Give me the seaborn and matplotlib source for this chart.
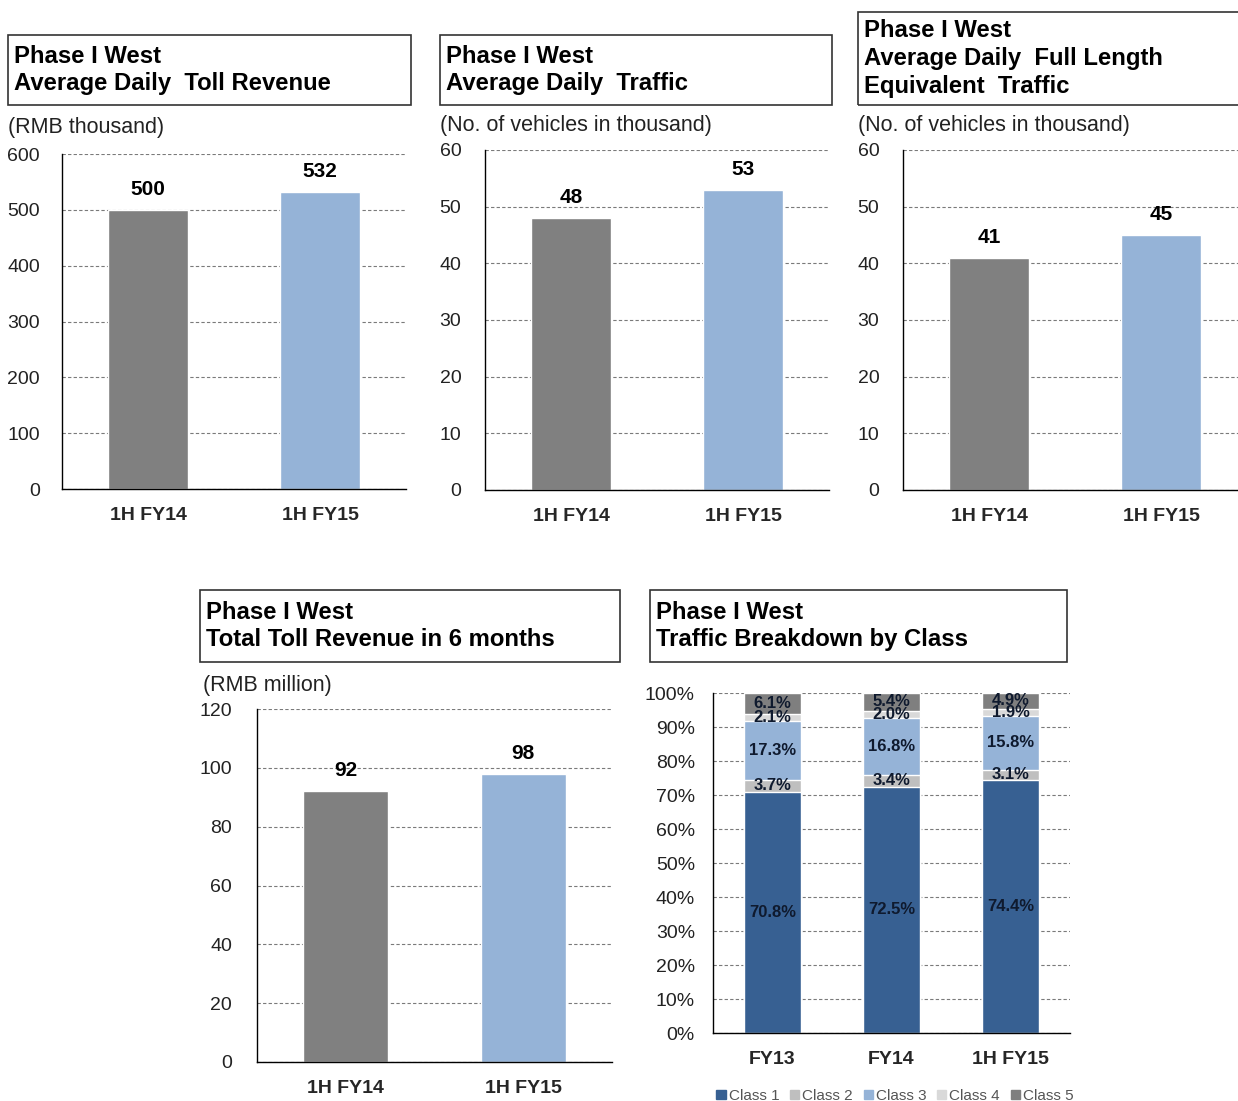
import matplotlib
matplotlib.use("Agg")
import matplotlib.pyplot as plt
import seaborn as sns
import pandas as pd
from matplotlib.patches import Rectangle
from matplotlib.ticker import MultipleLocator, FuncFormatter

# ---- data ----
periods = ["1H FY14", "1H FY15"]
toll_revenue = [500, 532]        # RMB thousand
daily_traffic = [48, 53]         # thousand vehicles
fle_traffic = [41, 45]           # thousand vehicles
total_revenue = [92, 98]         # RMB million

class_periods = ["FY13", "FY14", "1H FY15"]
class_names = ["Class 1", "Class 2", "Class 3", "Class 4", "Class 5"]
class_1 = [70.8, 72.5, 74.4]
class_2 = [3.7, 3.4, 3.1]
class_3 = [17.3, 16.8, 15.8]
class_4 = [2.1, 2.0, 1.9]
class_5 = [6.1, 5.4, 4.9]

GREY = "#808080"
BLUE = "#95B3D7"
class_colors = ["#376092", "#BFBFBF", "#95B3D7", "#D9D9D9", "#7F7F7F"]

W, H = 1238, 1101
sns.set_theme(style="white")
plt.rcParams["font.family"] = ["Liberation Sans", "DejaVu Sans"]

fig = plt.figure(figsize=(W / 100, H / 100), dpi=100)


def px_rect(l, t, r, b):
    # pixel box -> figure fraction [left, bottom, width, height]
    return [l / W, 1 - b / H, (r - l) / W, (b - t) / H]


def title_box(l, t, r, b, text):
    fig.patches.append(Rectangle((l / W, 1 - b / H), (r - l) / W, (b - t) / H,
                                 transform=fig.transFigure, fill=False,
                                 edgecolor="#333333", linewidth=1.2))
    fig.text((l + 6) / W, 1 - ((t + b) / 2) / H, text, fontsize=17.2,
             fontweight="bold", ha="left", va="center", linespacing=1.27,
             color="black")


def unit_label(x, y, text):
    fig.text(x / W, 1 - y / H, text, fontsize=15.5, ha="left", va="center",
             color="#222222")


def style_axes(ax, ymax, step, ncat, pad=16):
    ax.set_xlim(-0.5, ncat - 0.5)
    ax.set_ylim(0, ymax)
    ax.yaxis.set_major_locator(MultipleLocator(step))
    ax.yaxis.grid(True, linestyle=(0, (3, 2)), color="#7a7a7a", linewidth=0.8)
    ax.set_axisbelow(True)
    for s in ["top", "right"]:
        ax.spines[s].set_visible(False)
    for s in ["left", "bottom"]:
        ax.spines[s].set_color("black")
        ax.spines[s].set_linewidth(1.0)
    ax.set_xticks([i - 0.5 for i in range(ncat + 1)], minor=True)
    ax.tick_params(axis="x", which="minor", direction="in", length=5,
                   color="black", width=1)
    ax.tick_params(axis="x", which="major", length=0, pad=13, labelsize=14)
    ax.tick_params(axis="y", length=0, pad=pad, labelsize=14,
                   labelcolor="#222222")
    for lab in ax.get_xticklabels():
        lab.set_fontweight("bold")
    ax.set_xlabel("")
    ax.set_ylabel("")


def bar_panel(rect, values, ymax, step, pad=16, width=0.47):
    ax = fig.add_axes(rect)
    df = pd.DataFrame({"period": periods, "value": values})
    sns.barplot(data=df, x="period", y="value", hue="period",
                palette=[GREY, BLUE], width=width, saturation=1,
                dodge=False, legend=False, ax=ax)
    for cont, v in zip(ax.containers, values):
        ax.bar_label(cont, labels=[str(v)], padding=8, fontsize=15,
                     fontweight="bold", color="black")
    style_axes(ax, ymax, step, len(periods), pad)
    return ax


# ---- top row ----
title_box(8, 35, 411, 105, "Phase I West\nAverage Daily  Toll Revenue")
unit_label(8, 128, "(RMB thousand)")
bar_panel(px_rect(62, 154, 406, 489), toll_revenue, 600, 100, pad=16)

title_box(440, 35, 832, 105, "Phase I West\nAverage Daily  Traffic")
unit_label(440, 125, "(No. of vehicles in thousand)")
bar_panel(px_rect(485, 150, 829, 490), daily_traffic, 60, 10, pad=17)

title_box(858, 12, 1245, 105,
          "Phase I West\nAverage Daily  Full Length\nEquivalent  Traffic")
unit_label(858, 125, "(No. of vehicles in thousand)")
bar_panel(px_rect(903, 150, 1247, 490), fle_traffic, 60, 10, pad=17)

# ---- bottom row ----
title_box(200, 590, 620, 662, "Phase I West\nTotal Toll Revenue in 6 months")
unit_label(203, 685, "(RMB million)")
bar_panel(px_rect(257, 709, 612, 1062), total_revenue, 120, 20, pad=18,
          width=0.48)

title_box(650, 590, 1067, 662, "Phase I West\nTraffic Breakdown by Class")
ax5 = fig.add_axes(px_rect(713, 693, 1070, 1033))
series = [class_1, class_2, class_3, class_4, class_5]
stack = pd.DataFrame(series, index=class_names, columns=class_periods).T
cum = stack.cumsum(axis=1)
# draw cumulative heights from the top class down so each layer sits on the next
for name, col in zip(reversed(class_names), reversed(class_colors)):
    sns.barplot(x=class_periods, y=cum[name].values, color=col, width=0.48,
                saturation=1, ax=ax5)
for name in class_names:
    for i, p in enumerate(class_periods):
        v = stack.loc[p, name]
        ax5.text(i, cum.loc[p, name] - v / 2, f"{v:.1f}%", ha="center",
                 va="center", fontsize=12, fontweight="bold", color="#0f1a2e")
style_axes(ax5, 100, 10, len(class_periods), pad=13)
ax5.yaxis.set_major_formatter(FuncFormatter(lambda v, _: f"{v:.0f}%"))

handles = [Rectangle((0, 0), 1, 1, color=c) for c in class_colors]
fig.legend(handles, class_names, loc="center", ncol=5, frameon=False,
           bbox_to_anchor=(895 / W, 1 - 1096 / H), fontsize=11,
           handlelength=0.6, handleheight=0.6, handletextpad=0.2,
           columnspacing=0.7, labelcolor="#555555")

fig.savefig("out.png", dpi=100)
